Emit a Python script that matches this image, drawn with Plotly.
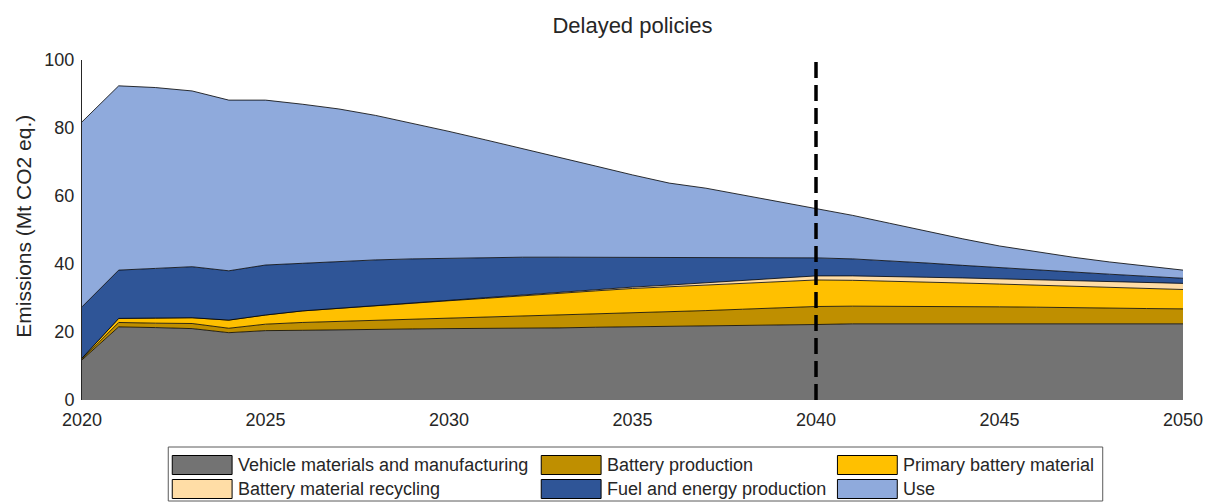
import plotly.graph_objects as go

# Emissions by source, Mt CO2 eq., delayed-policies scenario
years = list(range(2020, 2051))

vehicle = [11.8, 21.5, 21.3, 21.0, 19.8, 20.4, 20.5, 20.7, 20.8, 20.9, 21.0,
           21.0, 21.1, 21.2, 21.4, 21.5, 21.6, 21.8, 21.9, 22.0, 22.2,
           22.4, 22.4, 22.4, 22.4, 22.4, 22.4, 22.4, 22.4, 22.4, 22.4]
battery_prod = [0.2, 1.3, 1.3, 1.5, 1.3, 1.9, 2.3, 2.4, 2.6, 2.8, 3.0,
                3.3, 3.5, 3.7, 3.8, 4.0, 4.3, 4.5, 4.8, 5.1, 5.3,
                5.2, 5.2, 5.2, 5.1, 5.0, 4.9, 4.7, 4.6, 4.5, 4.4]
primary_material = [0.3, 1.2, 1.5, 1.7, 2.4, 2.7, 3.4, 3.9, 4.4, 4.8, 5.2,
                    5.6, 6.1, 6.5, 6.9, 7.3, 7.4, 7.5, 7.6, 7.7, 7.8,
                    7.6, 7.4, 7.1, 6.9, 6.7, 6.5, 6.4, 6.2, 5.9, 5.7]
recycling = [0.0, 0.0, 0.0, 0.0, 0.0, 0.0, 0.0, 0.0, 0.0, 0.0, 0.05,
             0.1, 0.1, 0.2, 0.3, 0.4, 0.5, 0.7, 0.8, 1.0, 1.2,
             1.3, 1.4, 1.4, 1.5, 1.5, 1.6, 1.6, 1.7, 1.8, 1.8]
fuel_energy = [15.1, 14.2, 14.6, 15.0, 14.5, 14.7, 14.0, 13.8, 13.4, 13.0, 12.45,
               11.9, 11.2, 10.4, 9.6, 8.8, 8.1, 7.4, 6.8, 6.1, 5.3,
               5.0, 4.6, 4.2, 3.7, 3.3, 2.9, 2.6, 2.1, 1.8, 1.5]
use_phase = [54.4, 54.2, 53.2, 51.7, 50.2, 48.5, 46.8, 44.8, 42.5, 39.9, 37.3,
             34.6, 32.0, 29.4, 26.8, 24.2, 21.9, 20.4, 18.4, 16.4, 14.5,
             12.8, 11.0, 9.3, 7.8, 6.4, 5.3, 4.3, 3.6, 2.9, 2.4]

series_names = ["Vehicle materials and manufacturing", "Battery production",
                "Primary battery material", "Battery material recycling",
                "Fuel and energy production", "Use"]
series_values = [vehicle, battery_prod, primary_material, recycling,
                 fuel_energy, use_phase]
series_colors = ["#737373", "#BF8F00", "#FFC000", "#FFDDA6", "#2F5597", "#8FAADC"]

x_ticks = [2020, 2025, 2030, 2035, 2040, 2045, 2050]
y_ticks = [0, 20, 40, 60, 80, 100]
policy_year = 2040

FONT = "Liberation Sans, Arial, sans-serif"
TEXT = "#262626"

fig = go.Figure()
for name, vals, col in zip(series_names, series_values, series_colors):
    fig.add_trace(go.Scatter(
        x=years, y=vals, name=name, mode="lines", stackgroup="one",
        fillcolor=col, line=dict(color="black", width=0.8),
        showlegend=False,
    ))

# vertical dashed marker
fig.add_shape(type="line", xref="x", yref="paper", x0=policy_year, x1=policy_year,
              y0=0, y1=1, line=dict(color="black", width=3.5, dash="16px,7px"))

# plot area geometry in pixels, used to place the boxed legend below the axes
W, H = 1215, 502
L, R, T, B = 81.5, 29.5, 60, 102
pw, ph = W - L - R, H - T - B


def px_x(p):
    return (p - L) / pw


def px_y(p):
    return (H - B - p) / ph


# legend frame
fig.add_shape(type="rect", xref="paper", yref="paper",
              x0=px_x(168), x1=px_x(1105), y0=px_y(447), y1=px_y(501),
              line=dict(color="#5a5a5a", width=1), fillcolor="white")

col_sym = [172, 542, 839]
row_mid = [465, 489]
legend_order = [0, 1, 2, 3, 4, 5]
for k, idx in enumerate(legend_order):
    r, c = divmod(k, 3)
    x0 = col_sym[c]
    ym = row_mid[r]
    fig.add_shape(type="rect", xref="paper", yref="paper",
                  x0=px_x(x0), x1=px_x(x0 + 60),
                  y0=px_y(ym + 9.5), y1=px_y(ym - 9.5),
                  line=dict(color="black", width=1), fillcolor=series_colors[idx])
    fig.add_annotation(xref="paper", yref="paper", x=px_x(x0 + 64), y=px_y(ym),
                       text=series_names[idx], showarrow=False,
                       xanchor="left", yanchor="middle",
                       font=dict(family=FONT, size=18, color=TEXT))

# y-axis title
fig.add_annotation(xref="paper", yref="paper", x=px_x(22), y=px_y(226),
                   text="Emissions (Mt CO2 eq.)", textangle=-90, showarrow=False,
                   xanchor="center", yanchor="middle",
                   font=dict(family=FONT, size=21, color=TEXT))

fig.update_layout(
    width=W, height=H,
    margin=dict(l=L, r=R, t=T, b=B),
    paper_bgcolor="white", plot_bgcolor="white",
    title=dict(text="Delayed policies", x=0.5, xref="paper", xanchor="center",
               y=1 - 25 / H, yref="container", yanchor="middle",
               font=dict(family=FONT, size=22, color=TEXT)),
    xaxis=dict(range=[2020, 2050], tickvals=x_ticks, ticks="inside", ticklen=12,
               tickcolor=TEXT, showgrid=False, zeroline=False, showline=False,
               layer="below traces", ticklabelstandoff=7,
               tickfont=dict(family=FONT, size=18, color=TEXT)),
    yaxis=dict(range=[0, 100], tickvals=y_ticks, ticks="inside", ticklen=13,
               tickcolor=TEXT, showgrid=False, zeroline=False, showline=True,
               linecolor=TEXT, linewidth=1, layer="below traces",
               ticklabelstandoff=3,
               tickfont=dict(family=FONT, size=18, color=TEXT)),
)

fig.write_html("out.html")
